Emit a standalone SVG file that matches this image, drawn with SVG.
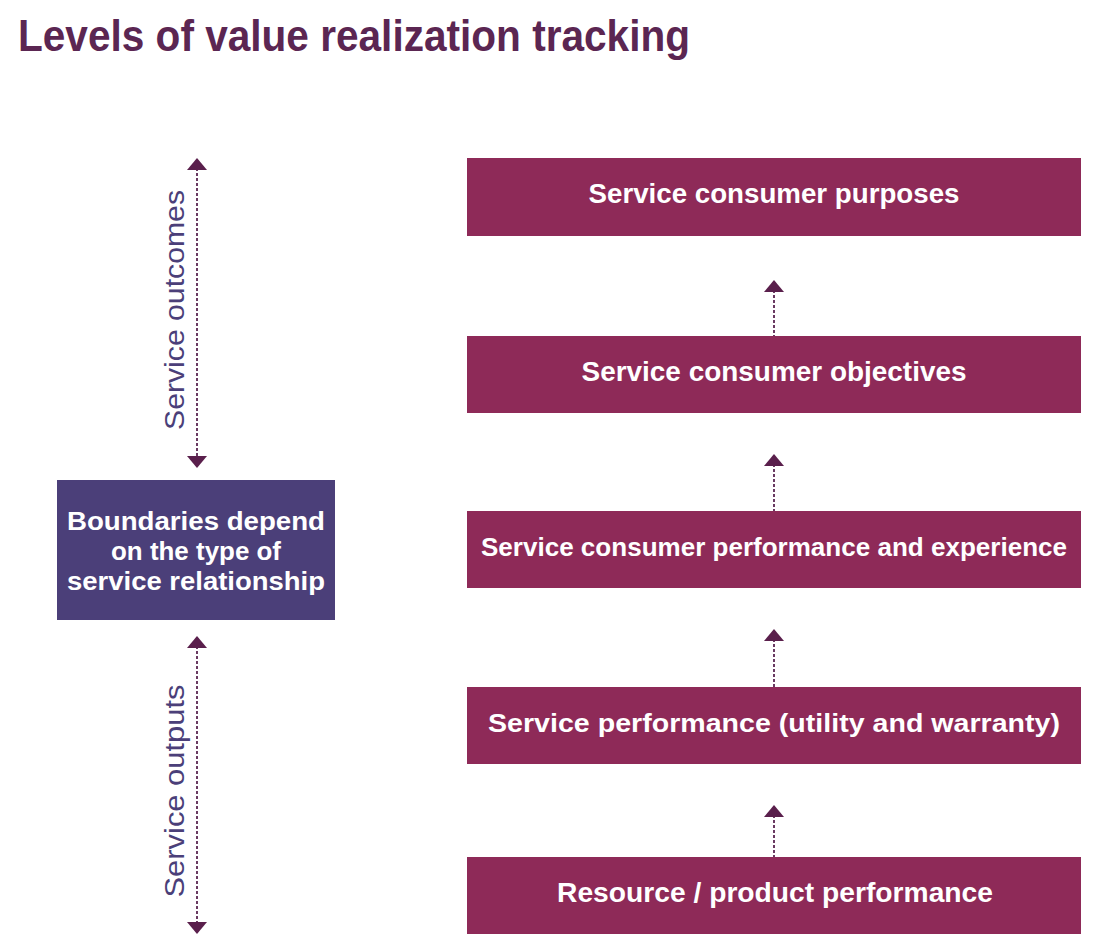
<svg xmlns="http://www.w3.org/2000/svg" width="1094" height="942" viewBox="0 0 1094 942">
<style>
.title{font-family:"Liberation Sans Narrow","Liberation Sans",Arial,sans-serif;font-weight:bold;font-size:45px;fill:#5b2652}
.box{fill:#8e2a58}
.lbox{fill:#4b3f79}
.bt{font-family:"Liberation Sans",Arial,sans-serif;font-size:28px;fill:#ffffff;text-anchor:middle;font-weight:bold}
.sm{font-size:26px}
.side{font-family:"Liberation Sans",Arial,sans-serif;font-size:27px;fill:#4b3f79;text-anchor:middle}
.dash{stroke:#6a3a62;stroke-width:2;stroke-dasharray:3 2;fill:none}
.head{fill:#5a1f4c}
</style>
<rect width="1094" height="942" fill="#ffffff"/>
<text class="title" x="18" y="51" textLength="672" lengthAdjust="spacingAndGlyphs">Levels of value realization tracking</text>

<g id="connectors">
  <line class="dash" x1="774" y1="290" x2="774" y2="336"/>
  <polygon class="head" points="774,280 764,292 784,292"/>
  <line class="dash" x1="774" y1="464" x2="774" y2="511"/>
  <polygon class="head" points="774,454 764,466 784,466"/>
  <line class="dash" x1="774" y1="639" x2="774" y2="687"/>
  <polygon class="head" points="774,629 764,641 784,641"/>
  <line class="dash" x1="774" y1="815" x2="774" y2="857"/>
  <polygon class="head" points="774,805 764,817 784,817"/>

  <line class="dash" x1="197" y1="168" x2="197" y2="458"/>
  <polygon class="head" points="197,158 187,170 207,170"/>
  <polygon class="head" points="197,468 187,456 207,456"/>
  <line class="dash" x1="197" y1="646" x2="197" y2="924"/>
  <polygon class="head" points="197,636 187,648 207,648"/>
  <polygon class="head" points="197,934 187,922 207,922"/>
</g>

<g id="label-outcomes">
  <text class="side" transform="translate(184,310) rotate(-90)" textLength="240" lengthAdjust="spacingAndGlyphs">Service outcomes</text>
</g>
<g id="label-outputs">
  <text class="side" transform="translate(184,791) rotate(-90)" textLength="213" lengthAdjust="spacingAndGlyphs">Service outputs</text>
</g>

<g id="node-boundaries">
  <rect class="lbox" x="57" y="480" width="278" height="140"/>
  <text class="bt sm" x="196" y="530" textLength="258" lengthAdjust="spacingAndGlyphs">Boundaries depend</text>
  <text class="bt sm" x="196" y="560" textLength="170" lengthAdjust="spacingAndGlyphs">on the type of</text>
  <text class="bt sm" x="196" y="590" textLength="258" lengthAdjust="spacingAndGlyphs">service relationship</text>
</g>

<g id="node-purposes">
  <rect class="box" x="467" y="158" width="614" height="78"/>
  <text class="bt" x="774" y="203" textLength="371" lengthAdjust="spacingAndGlyphs">Service consumer purposes</text>
</g>
<g id="node-objectives">
  <rect class="box" x="467" y="336" width="614" height="77"/>
  <text class="bt" x="774" y="381" textLength="385" lengthAdjust="spacingAndGlyphs">Service consumer objectives</text>
</g>
<g id="node-consumer-performance">
  <rect class="box" x="467" y="511" width="614" height="77"/>
  <text class="bt sm" x="774" y="556" textLength="586" lengthAdjust="spacingAndGlyphs">Service consumer performance and experience</text>
</g>
<g id="node-service-performance">
  <rect class="box" x="467" y="687" width="614" height="77"/>
  <text class="bt sm" x="774" y="732" textLength="572" lengthAdjust="spacingAndGlyphs">Service performance (utility and warranty)</text>
</g>
<g id="node-resource">
  <rect class="box" x="467" y="857" width="614" height="77"/>
  <text class="bt" x="775" y="902" textLength="436" lengthAdjust="spacingAndGlyphs">Resource / product performance</text>
</g>
</svg>
